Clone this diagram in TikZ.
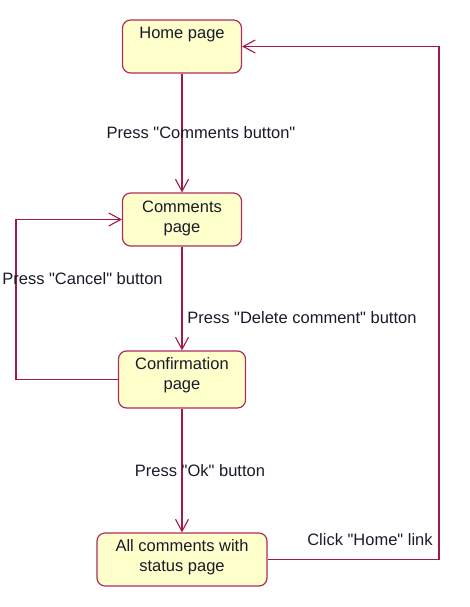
\documentclass[tikz,border=0pt]{standalone}
\usepackage{fontspec}
\setmainfont{Liberation Sans}
\usetikzlibrary{arrows.meta}
\definecolor{edgec}{HTML}{A3174A}
\definecolor{boxc}{HTML}{B02C5C}
\definecolor{fillc}{HTML}{FFFFCC}
\definecolor{txtc}{HTML}{1A1A2A}
\newcommand{\qd}{\textquotedbl}
\begin{document}
\begin{tikzpicture}[x=1pt,y=-1pt,
  statebox/.style={draw=boxc, fill=fillc, line width=1.2pt, rounded corners=8pt, inner sep=0pt},
  stext/.style={anchor=north, inner sep=0pt, align=center, text=txtc, font=\fontsize{16.5}{20}\selectfont},
  elabel/.style={anchor=base, inner sep=0pt, text=txtc, font=\fontsize{16.5}{20}\selectfont},
  arr/.style={draw=edgec, line width=1.1pt, -{Straight Barb[length=12pt,width=13pt,line width=1.1pt]}}]
\useasboundingbox (0,0) rectangle (469,607);
% state boxes
\node[statebox, minimum width=119pt, minimum height=53pt] (home) at (182,46.5) {};
\node[statebox, minimum width=119pt, minimum height=53pt] (comments) at (182,219.5) {};
\node[statebox, minimum width=127pt, minimum height=57pt] (conf) at (182,379.5) {};
\node[statebox, minimum width=170pt, minimum height=53pt] (all) at (182,559.5) {};
% state texts
\node[stext] (homet) at ([yshift=-8pt]home.north) {Home page};
\node[stext] (commentst) at ([yshift=-8pt]comments.north) {Comments\\page};
\node[stext] (conft) at ([yshift=-7pt]conf.north) {Confirmation\\page};
\node[stext] (allt) at ([yshift=-7pt]all.north) {All comments with\\status page};
% bend points
\coordinate (cl) at (16,379.5);
\coordinate (hr) at (439,559.5);
% connectors
\draw[arr] (home.south) -- (comments.north);
\draw[arr] (comments.south) -- (conf.north);
\draw[arr] (conf.south) -- (all.north);
\draw[arr] (conf.west) -- (cl) |- (comments.west);
\draw[arr] (all.east) -- (hr) |- (home.east);
% connector labels
\node[elabel] (l1) at (201,138) {Press \qd Comments button\qd};
\node[elabel] (l2) at (302,323) {Press \qd Delete comment\qd{} button};
\node[elabel] (l3) at (82.5,284) {Press \qd Cancel\qd{} button};
\node[elabel] (l4) at (200,476) {Press \qd Ok\qd{} button};
\node[elabel] (l5) at (370,545) {Click \qd Home\qd{} link};
\end{tikzpicture}
\end{document}
